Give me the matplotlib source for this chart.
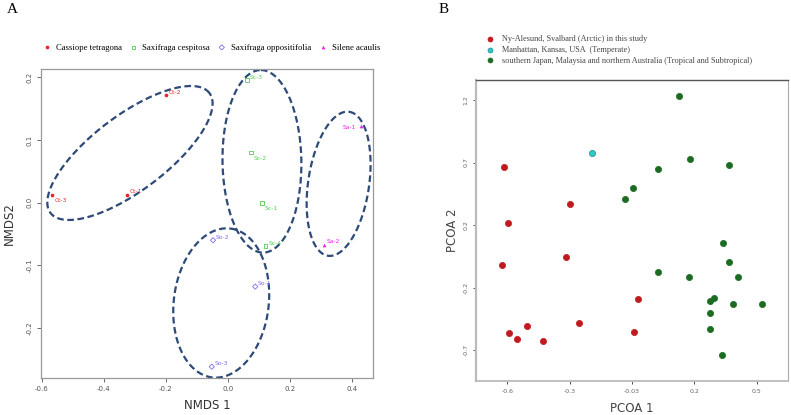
import matplotlib
matplotlib.use('Agg')
import matplotlib.pyplot as plt
import numpy as np

# ---- panel A: NMDS of the four plant species ----
species = ["Cassiope tetragona", "Saxifraga cespitosa", "Saxifraga oppositifolia", "Silene acaulis"]
sp_colors = ["#e8242a", "#4fcf4f", "#7e6cf0", "#e61ee6"]
sp_markers = ["o", "s", "D", "^"]
sp_filled = [True, False, False, True]

ct_names = ["Ct-1", "Ct-2", "Ct-3"]
ct_x = [-0.325, -0.200, -0.566]
ct_y = [0.013, 0.172, 0.012]

sc_names = ["Sc-1", "Sc-2", "Sc-3", "Sc-4"]
sc_x = [0.109, 0.075, 0.061, 0.121]
sc_y = [0.000, 0.080, 0.196, -0.069]

so_names = ["So-1", "So-2", "So-3"]
so_x = [0.088, -0.048, -0.052]
so_y = [-0.134, -0.060, -0.262]

sa_names = ["Sa-1", "Sa-2"]
sa_x = [0.427, 0.310]
sa_y = [0.1225, -0.067]

# label offsets (points) for each sample
ct_off = [(2, 2), (2, 2), (2, -4)]
sc_off = [(2, -4), (2, -4), (2, 2), (2, 2)]
so_off = [(2, 2), (2, 2), (2, 2)]
sa_off = [(-13, -1), (2, 2)]

# hand drawn ellipses: centre, major half-axis vector, minor half-axis vector
ell_centre = [(-0.3155, 0.0794), (0.1095, 0.0661), (-0.0216, -0.1602), (0.3564, 0.0302)]
ell_major = [(0.256, 0.0957), (-0.0035, 0.1458), (0.0294, 0.1189), (0.0342, 0.115)]
ell_minor = [(-0.0727, 0.0479), (0.127, 0.0), (0.1517, -0.00925), (0.0971, -0.00712)]

# ---- panel B: PCoA of sites ----
arc_x = [-0.614, -0.297, -0.597, -0.626, -0.317, 0.028, -0.255, -0.505, -0.593, 0.011, -0.552, -0.430]
arc_y = [0.666, 0.366, 0.218, -0.118, -0.058, -0.394, -0.582, -0.606, -0.662, -0.656, -0.712, -0.728]
tem_x = [-0.191]
tem_y = [0.778]
tro_x = [0.228, 0.281, 0.467, 0.126, 0.004, -0.033, 0.439, 0.467, 0.124, 0.275, 0.509,
         0.397, 0.377, 0.488, 0.628, 0.374, 0.374, 0.435]
tro_y = [1.230, 0.726, 0.678, 0.646, 0.496, 0.406, 0.058, -0.094, -0.178, -0.218, -0.214,
         -0.384, -0.408, -0.434, -0.432, -0.502, -0.632, -0.842]
site_labels = ["Ny-Alesund, Svalbard (Arctic) in this study",
               "Manhattan, Kansas, USA  (Temperate)",
               "southern Japan, Malaysia and northern Australia (Tropical and Subtropical)"]
site_colors = ["#c01a1e", "#33c6c6", "#1b6b22"]

xt_b = [-0.6, -0.3, 0.0, 0.3, 0.6]
xt_b_lab = ["-0.6", "-0.3", "-0.03", "0.2", "0.5"]
yt_b = [1.2, 0.7, 0.2, -0.3, -0.8]
yt_b_lab = ["1.2", "0.7", "0.2", "-0.2", "-0.7"]

fig = plt.figure(figsize=(7.91, 4.15), dpi=100)
serif = "Liberation Serif"

# ================= panel A =================
axA = fig.add_axes([0.0518, 0.0892, 0.4197, 0.7446])
groups = [(ct_names, ct_x, ct_y, ct_off), (sc_names, sc_x, sc_y, sc_off),
          (so_names, so_x, so_y, so_off), (sa_names, sa_x, sa_y, sa_off)]
for k, (names, xs, ys, offs) in enumerate(groups):
    c = sp_colors[k]
    if sp_filled[k]:
        axA.scatter(xs, ys, s=7, marker=sp_markers[k], color=c, linewidths=0)
    else:
        axA.scatter(xs, ys, s=7, marker=sp_markers[k], facecolors="none", edgecolors=c, linewidths=0.6)
    for n, x, y, o in zip(names, xs, ys, offs):
        axA.annotate(n, (x, y), xytext=o, textcoords="offset points", fontsize=4.3, color=c,
                     va="center", ha="left")

t = np.linspace(0, 2 * np.pi, 300)
for cen, u, v in zip(ell_centre, ell_major, ell_minor):
    ex = cen[0] + np.cos(t) * u[0] + np.sin(t) * v[0]
    ey = cen[1] + np.cos(t) * u[1] + np.sin(t) * v[1]
    axA.plot(ex, ey, color="#2e4a78", lw=1.6, ls=(0, (3.0, 1.6)))

axA.set_xlim(-0.602, 0.467)
axA.set_ylim(-0.28, 0.2136)
axA.set_xticks([-0.6, -0.4, -0.2, 0.0, 0.2, 0.4])
axA.set_yticks([-0.2, -0.1, 0.0, 0.1, 0.2])
axA.set_xticklabels(["-0.6", "-0.4", "-0.2", "0.0", "0.2", "0.4"])
axA.set_yticklabels(["-0.2", "-0.1", "0.0", "0.1", "0.2"], rotation=90, va="center")
axA.tick_params(labelsize=5, colors="#555555", length=3, width=0.6, pad=3)
for s in axA.spines.values():
    s.set_color("#999999")
    s.set_linewidth(0.9)
axA.set_xlabel("NMDS 1", fontsize=8.5, color="#333333", labelpad=5)
axA.set_ylabel("NMDS2", fontsize=8.5, color="#333333", labelpad=8)

hA = []
for k in range(4):
    if sp_filled[k]:
        h = axA.scatter([], [], s=7, marker=sp_markers[k], color=sp_colors[k], linewidths=0)
    else:
        h = axA.scatter([], [], s=7, marker=sp_markers[k], facecolors="none",
                        edgecolors=sp_colors[k], linewidths=0.6)
    hA.append(h)
axA.legend(hA, species, loc="lower left", bbox_to_anchor=(-0.006, 1.045), ncol=4, frameon=False,
           prop={"family": serif, "size": 6.2}, handletextpad=0.55, columnspacing=0.85,
           handlelength=1.0, borderaxespad=0)

fig.text(0.009, 0.992, "A", fontsize=11, family=serif, va="top", ha="left")

# ================= panel B =================
axB = fig.add_axes([0.6021, 0.0819, 0.394, 0.7253])
hB = []
for xs, ys, c in zip([arc_x, tem_x, tro_x], [arc_y, tem_y, tro_y], site_colors):
    ec = "#1a8c8c" if c == site_colors[1] else c
    h = axB.scatter(xs, ys, s=20, color=c, edgecolors=ec, linewidths=0.5, zorder=3)
    hB.append(h)
axB.set_xlim(-0.749, 0.751)
axB.set_ylim(-1.048, 1.36)
axB.set_xticks(xt_b)
axB.set_xticklabels(xt_b_lab)
axB.set_yticks(yt_b)
axB.set_yticklabels(yt_b_lab, rotation=90, va="center")
axB.tick_params(labelsize=4.5, colors="#666666", length=2.5, width=0.6, pad=3)
axB.tick_params(axis="both", color="#333333")
axB.spines["left"].set_color("#bbbbbb")
axB.spines["left"].set_linewidth(1.6)
axB.spines["bottom"].set_color("#bbbbbb")
axB.spines["bottom"].set_linewidth(1.3)
axB.spines["top"].set_color("#555555")
axB.spines["top"].set_linewidth(1.0)
axB.spines["right"].set_color("#aaaaaa")
axB.spines["right"].set_linewidth(0.8)
axB.set_xlabel("PCOA 1", fontsize=8.5, color="#444444", labelpad=6)
axB.set_ylabel("PCOA 2", fontsize=8.5, color="#444444", labelpad=3)

axB.legend(hB, site_labels, loc="lower left", bbox_to_anchor=(0.02, 1.04), frameon=False,
           prop={"family": serif, "size": 5.95}, labelcolor="#444444", handletextpad=1.0,
           labelspacing=0.32, handlelength=1.0, borderaxespad=0, markerscale=0.8)

fig.text(0.555, 0.992, "B", fontsize=11, family=serif, va="top", ha="left")

fig.savefig("out.png", dpi=100)
